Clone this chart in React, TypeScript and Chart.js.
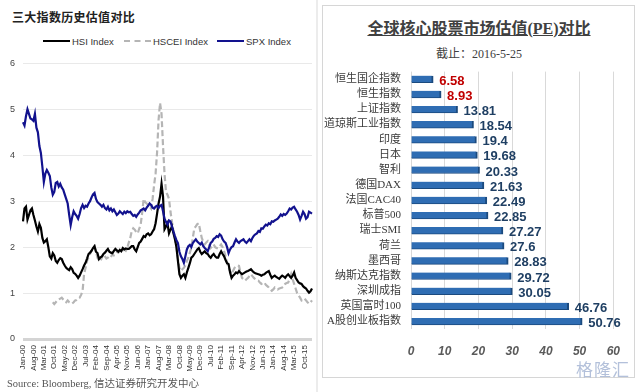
import React, { useEffect, useRef } from 'react';
import { Chart, registerables } from 'chart.js';

Chart.register(...registerables);

// ---------- Left chart data (monthly, Jan-00 .. Mar-16) ----------
const TICK_LABELS = [
  'Jan-00', 'Aug-00', 'Mar-01', 'Oct-01', 'May-02', 'Dec-02', 'Jul-03', 'Feb-04', 'Sep-04', 'Apr-05',
  'Nov-05', 'Jun-06', 'Jan-07', 'Aug-07', 'Mar-08', 'Oct-08', 'May-09', 'Dec-09', 'Jul-10', 'Feb-11',
  'Sep-11', 'Apr-12', 'Nov-12', 'Jun-13', 'Jan-14', 'Aug-14', 'Mar-15', 'Oct-15',
];
const MONTH_NAMES = ['Jan', 'Feb', 'Mar', 'Apr', 'May', 'Jun', 'Jul', 'Aug', 'Sep', 'Oct', 'Nov', 'Dec'];
const Y_TICKS = [0, 1, 2, 3, 4, 5, 6];

const HSI = [
  2.56, 2.84, 2.88, 2.6, 2.7, 2.8, 2.84, 2.7, 2.58, 2.45,
  2.34, 2.5, 2.42, 2.2, 2.1, 2.13, 2.17, 2.0, 1.8, 1.75,
  1.87, 1.82, 1.7, 1.66, 1.72, 1.76, 1.74, 1.66, 1.6, 1.55,
  1.52, 1.5, 1.56, 1.52, 1.44, 1.42, 1.38, 1.33, 1.38, 1.45,
  1.52, 1.6, 1.66, 1.75, 1.85, 1.88, 1.92, 1.98, 2.02, 1.9,
  1.87, 1.74, 1.78, 1.8, 1.85, 1.88, 1.92, 1.96, 1.9, 1.88,
  1.87, 1.92, 1.96, 1.93, 1.9, 1.94, 1.91, 1.98, 1.95, 1.97,
  1.96, 1.96, 1.99, 2.02, 2.02, 1.95, 1.91, 2.0, 2.09, 2.12,
  2.18, 2.24, 2.22, 2.28, 2.3, 2.26, 2.28, 2.34, 2.39, 2.52,
  2.73, 2.95, 3.1, 3.38, 3.1, 2.39, 2.45, 2.52, 2.3, 2.38,
  2.45, 2.3, 2.17, 2.0, 1.7, 1.41, 1.33, 1.38, 1.41, 1.33,
  1.45, 1.55, 1.65, 1.77, 1.8, 1.85, 1.9, 1.95, 1.98, 1.9,
  1.85, 1.88, 1.91, 1.87, 1.85, 1.8, 1.77, 1.82, 1.85, 1.8,
  1.77, 1.77, 1.85, 1.91, 1.85, 1.8, 1.72, 1.65, 1.63, 1.45,
  1.33, 1.38, 1.41, 1.45, 1.43, 1.48, 1.44, 1.41, 1.43, 1.45,
  1.47, 1.48, 1.5, 1.52, 1.48, 1.45, 1.43, 1.42, 1.41, 1.4,
  1.38, 1.4, 1.41, 1.44, 1.46, 1.48, 1.4, 1.33, 1.36, 1.38,
  1.35, 1.33, 1.31, 1.35, 1.38, 1.36, 1.33, 1.38, 1.41, 1.37,
  1.33, 1.38, 1.45, 1.33, 1.28, 1.23, 1.21, 1.2, 1.15, 1.12,
  1.1, 1.05, 1.01, 1.04, 1.1,
];

const HSCEI = [
  null, null, null, null, null, null, null, null, null, null,
  null, null, null, null, null, null, null, null, null, null,
  0.8, 0.76, 0.8, 0.84, 0.86, 0.88, 0.9, 0.86, 0.82, 0.8,
  0.84, 0.8, 0.78, 0.77, 0.8, 0.84, 0.85, 0.88, 0.9, 0.96,
  1.05, 1.41, 1.55, 1.7, 1.78, 1.85, 1.92, 1.98, 2.02, 1.9,
  1.77, 1.72, 1.7, 1.78, 1.85, 1.8, 1.75, 1.77, 1.8, 1.78,
  1.85, 1.82, 1.86, 1.9, 1.88, 1.91, 1.88, 1.93, 1.95, 1.92,
  1.98, 2.1, 2.2, 2.35, 2.41, 2.38, 2.33, 2.3, 2.4, 2.49,
  2.75, 3.05, 2.98, 2.95, 2.92, 2.88, 2.84, 3.05, 3.35, 3.6,
  4.06, 4.77, 5.14, 4.9, 4.2, 3.6, 3.2, 3.14, 3.05, 2.77,
  2.55, 2.34, 2.2, 2.0, 1.75, 1.55, 1.48, 1.52, 1.55, 1.6,
  1.7, 1.77, 1.88, 1.98, 2.2, 2.41, 2.45, 2.5, 2.52, 2.35,
  2.2, 2.12, 2.06, 2.1, 2.13, 2.05, 1.98, 2.02, 2.06, 2.0,
  1.98, 1.98, 2.02, 2.06, 2.0, 1.91, 1.8, 1.65, 1.55, 1.48,
  1.41, 1.48, 1.55, 1.58, 1.6, 1.59, 1.45, 1.33, 1.3, 1.27,
  1.3, 1.33, 1.37, 1.41, 1.37, 1.33, 1.3, 1.28, 1.27, 1.23,
  1.2, 1.22, 1.23, 1.18, 1.15, 1.12, 1.08, 1.05, 1.08, 1.12,
  1.1, 1.08, 1.1, 1.11, 1.12, 1.15, 1.2, 1.22, 1.23, 1.3,
  1.41, 1.3, 1.2, 1.1, 1.0, 0.95, 0.9, 0.84, 0.86, 0.88,
  0.84, 0.8, 0.77, 0.8, 0.84,
];

const SPX = [
  4.72, 4.65, 4.85, 5.0, 4.9, 4.8, 4.78, 4.75, 4.9, 4.6,
  4.5, 4.2, 4.05, 3.75, 3.42, 3.6, 3.68, 3.62, 3.55, 3.3,
  3.14, 3.2, 3.4, 3.42, 3.32, 3.38, 3.3, 3.25, 3.15, 3.05,
  2.95, 2.7, 2.48, 2.65, 2.78, 2.72, 2.68, 2.62, 2.72, 2.85,
  2.92, 2.85, 2.9, 2.88, 2.95, 3.0, 3.08, 3.15, 3.18, 3.05,
  2.98, 2.95, 2.92, 2.88, 2.92, 2.85, 2.82, 2.88, 2.8, 2.84,
  2.78, 2.82, 2.76, 2.7, 2.73, 2.78, 2.75, 2.72, 2.77, 2.74,
  2.78, 2.76, 2.77, 2.72, 2.68, 2.7, 2.66, 2.71, 2.75, 2.8,
  2.82, 2.84, 2.8, 2.86, 2.9, 2.95, 2.92, 2.86, 2.84, 2.88,
  2.9, 2.85, 2.9, 2.92, 2.78, 2.62, 2.55, 2.49, 2.58, 2.56,
  2.45, 2.34, 2.24, 2.15, 2.09, 1.9, 1.8, 1.74, 1.66, 1.8,
  1.95, 2.02, 2.05, 2.0, 2.09, 2.13, 2.17, 2.12, 2.09, 2.06,
  2.1, 2.02, 1.98, 1.95, 1.91, 2.0, 2.09, 2.12, 2.18, 2.2,
  2.24, 2.22, 2.28, 2.25, 2.17, 2.12, 2.09, 2.0, 1.87, 1.95,
  2.0, 2.02, 2.1, 2.17, 2.12, 2.09, 2.13, 2.15, 2.17, 2.12,
  2.09, 2.13, 2.17, 2.13, 2.2, 2.25, 2.28, 2.3, 2.35, 2.33,
  2.41, 2.4, 2.45, 2.49, 2.47, 2.52, 2.5, 2.56, 2.55, 2.58,
  2.6, 2.62, 2.66, 2.71, 2.68, 2.72, 2.7, 2.73, 2.78, 2.84,
  2.82, 2.86, 2.88, 2.82, 2.77, 2.7, 2.6, 2.68, 2.77, 2.72,
  2.62, 2.65, 2.77, 2.75, 2.73,
];

// ---------- Right chart data ----------
const PE_CATEGORIES = [
  '恒生国企指数', '恒生指数', '上证指数', '道琼斯工业指数', '印度', '日本', '智利', '德国DAX',
  '法国CAC40', '标普500', '瑞士SMI', '荷兰', '墨西哥', '纳斯达克指数', '深圳成指', '英国富时100', 'A股创业板指数',
];
const PE_VALUES = [6.58, 8.93, 13.81, 18.54, 19.4, 19.68, 20.33, 21.63, 22.49, 22.85, 27.27, 27.6, 28.83, 29.72, 30.05, 46.76, 50.76];
const PE_TICKS = [0, 10, 20, 30, 40, 50, 60];

const SANS = "'Liberation Sans', Arial, sans-serif";
const CJK = "'Noto Sans CJK SC', sans-serif";
const SERIF_CJK = "'Liberation Serif', 'Noto Sans CJK SC', serif";

function LeftChart() {
  const ref = useRef<HTMLCanvasElement>(null);
  useEffect(() => {
    const labels = HSI.map((_, i) => MONTH_NAMES[i % 12] + '-' + String(Math.floor(i / 12)).padStart(2, '0'));
    const chart = new Chart(ref.current!, {
      type: 'line',
      data: {
        labels,
        datasets: [
          { label: 'SPX Index', data: SPX, borderColor: '#12128e', borderWidth: 2.2, pointRadius: 0, order: 0 },
          { label: 'HSI Index', data: HSI, borderColor: '#000000', borderWidth: 2.2, pointRadius: 0, order: 1 },
          { label: 'HSCEI Index', data: HSCEI, borderColor: '#b5b5b5', borderWidth: 2.2, borderDash: [6, 3], pointRadius: 0, order: 2 },
        ],
      },
      options: {
        responsive: false,
        animation: false,
        layout: { padding: { top: 10, right: 2, left: 0, bottom: 0 } },
        plugins: { legend: { display: false }, tooltip: { enabled: false } },
        scales: {
          x: {
            type: 'category',
            grid: { display: false, drawTicks: false },
            border: { display: false },
            ticks: {
              autoSkip: false,
              minRotation: 90,
              maxRotation: 90,
              padding: 6,
              color: '#333',
              font: { family: SANS, size: 8 },
              callback: (_v: any, i: number) => (i % 7 === 0 ? TICK_LABELS[i / 7] ?? '' : ''),
            },
            afterFit: (s: any) => { s.height = 46; s.paddingLeft = 0; s.paddingRight = 0; },
          },
          y: {
            min: 0,
            max: 6,
            border: { display: false },
            afterBuildTicks: (s: any) => { s.ticks = Y_TICKS.map((v) => ({ value: v })); },
            grid: {
              drawTicks: false,
              color: (c: any) => (c.tick && c.tick.value === 0 ? '#d4d4d4' : '#e9e9e9'),
              lineWidth: (c: any) => (c.tick && c.tick.value === 0 ? 3 : 1),
            },
            ticks: {
              autoSkip: false,
              padding: 8,
              color: '#444',
              font: { family: SANS, size: 9 },
              callback: (v: any) => String(v),
            },
            afterFit: (s: any) => { s.width = 23; },
          },
        },
      },
    });
    return () => chart.destroy();
  }, []);
  return <canvas ref={ref} width={314} height={335} style={{ position: 'absolute', left: 0, top: 50, width: 314, height: 335 }} />;
}

function RightChart() {
  const ref = useRef<HTMLCanvasElement>(null);
  useEffect(() => {
    const valueLabels = {
      id: 'valueLabels',
      afterDatasetsDraw(chart: any) {
        const ctx = chart.ctx;
        const meta = chart.getDatasetMeta(0);
        ctx.save();
        ctx.font = "bold 13px 'Liberation Sans Narrow', 'Liberation Sans', sans-serif";
        ctx.textBaseline = 'middle';
        ctx.textAlign = 'left';
        meta.data.forEach((el: any, i: number) => {
          ctx.fillStyle = i < 2 ? '#C00000' : '#1F3F63';
          ctx.fillText(String(PE_VALUES[i]), el.x + 6, el.y + 2);
        });
        ctx.restore();
      },
    };
    const chart = new Chart(ref.current!, {
      type: 'bar',
      data: {
        labels: PE_CATEGORIES,
        datasets: [
          {
            data: PE_VALUES,
            backgroundColor: '#2F6DB3',
            borderColor: '#1B4A7E',
            borderWidth: { top: 0, right: 2, bottom: 1, left: 0 },
            borderSkipped: 'start',
            barThickness: 7,
          },
        ],
      },
      options: {
        indexAxis: 'y',
        responsive: false,
        animation: false,
        layout: { padding: { top: 8, right: 18, left: 0, bottom: 0 } },
        plugins: { legend: { display: false }, tooltip: { enabled: false } },
        scales: {
          x: {
            min: 0,
            max: 60,
            border: { display: false },
            grid: { color: '#d9d9d9', drawTicks: false },
            afterBuildTicks: (s: any) => { s.ticks = PE_TICKS.map((v) => ({ value: v })); },
            ticks: {
              padding: 15,
              color: '#5a5a5a',
              font: { family: "'Liberation Sans Narrow', 'Liberation Sans', sans-serif", size: 12, weight: 'bold', style: 'italic' },
            },
            afterFit: (s: any) => { s.height = 30; },
          },
          y: {
            border: { display: false },
            grid: { display: false, drawTicks: false },
            ticks: { autoSkip: false, padding: 10, color: '#3a3a3a', font: { family: SERIF_CJK, size: 11 } },
            afterFit: (s: any) => { s.width = 88; },
          },
        },
      },
      plugins: [valueLabels],
    });
    return () => chart.destroy();
  }, []);
  return <canvas ref={ref} width={312} height={304} style={{ position: 'absolute', left: 323, top: 55, width: 312, height: 304 }} />;
}

function LegendItem({ x, text, color, dashed }: { x: number; text: string; color: string; dashed?: boolean }) {
  return (
    <div style={{ position: 'absolute', left: x, top: 34, height: 14, display: 'flex', alignItems: 'center' }}>
      <div style={{ width: 27, height: 0, borderTop: `2.5px ${dashed ? 'dashed' : 'solid'} ${color}`, marginRight: 2 }} />
      <span style={{ font: `9.5px ${SANS}`, color: '#333', whiteSpace: 'nowrap' }}>{text}</span>
    </div>
  );
}

export default function App() {
  return (
    <div style={{ position: 'fixed', left: 0, top: 0, width: 640, height: 392, background: '#fff', overflow: 'hidden' }}>
      {/* left panel */}
      <div style={{ position: 'absolute', left: 12, top: 8, font: `bold 12px ${CJK}`, color: '#222', letterSpacing: 0.3, whiteSpace: 'nowrap' }}>
        三大指数历史估值对比
      </div>
      <LegendItem x={43} text="HSI Index" color="#000" />
      <LegendItem x={124} text="HSCEI Index" color="#b5b5b5" dashed />
      <LegendItem x={217} text="SPX Index" color="#12128e" />
      <LeftChart />
      <div style={{ position: 'absolute', left: 7, top: 375, font: `10.5px ${SERIF_CJK}`, color: '#555', whiteSpace: 'nowrap' }}>
        Source: Bloomberg, 信达证券研究开发中心
      </div>
      <div style={{ position: 'absolute', left: 316, top: 0, width: 2, height: 392, background: '#ececec' }} />

      {/* right panel */}
      <div style={{ position: 'absolute', left: 322, top: 5, width: 313, height: 373, border: '1px solid #d6d6d6', boxSizing: 'border-box' }} />
      <div style={{ position: 'absolute', left: 323, top: 15, width: 312, textAlign: 'center', font: `bold 16px ${SERIF_CJK}`, color: '#404040', textDecoration: 'underline', whiteSpace: 'nowrap' }}>
        全球核心股票市场估值(PE)对比
      </div>
      <div style={{ position: 'absolute', left: 323, top: 44, width: 312, textAlign: 'center', font: `12px ${SERIF_CJK}`, color: '#404040', whiteSpace: 'nowrap' }}>
        截止：2016-5-25
      </div>
      <RightChart />
      <div style={{ position: 'absolute', left: 576, top: 356, font: `17px ${CJK}`, color: '#b3c0da', letterSpacing: 1, whiteSpace: 'nowrap' }}>
        格隆汇
      </div>
    </div>
  );
}
